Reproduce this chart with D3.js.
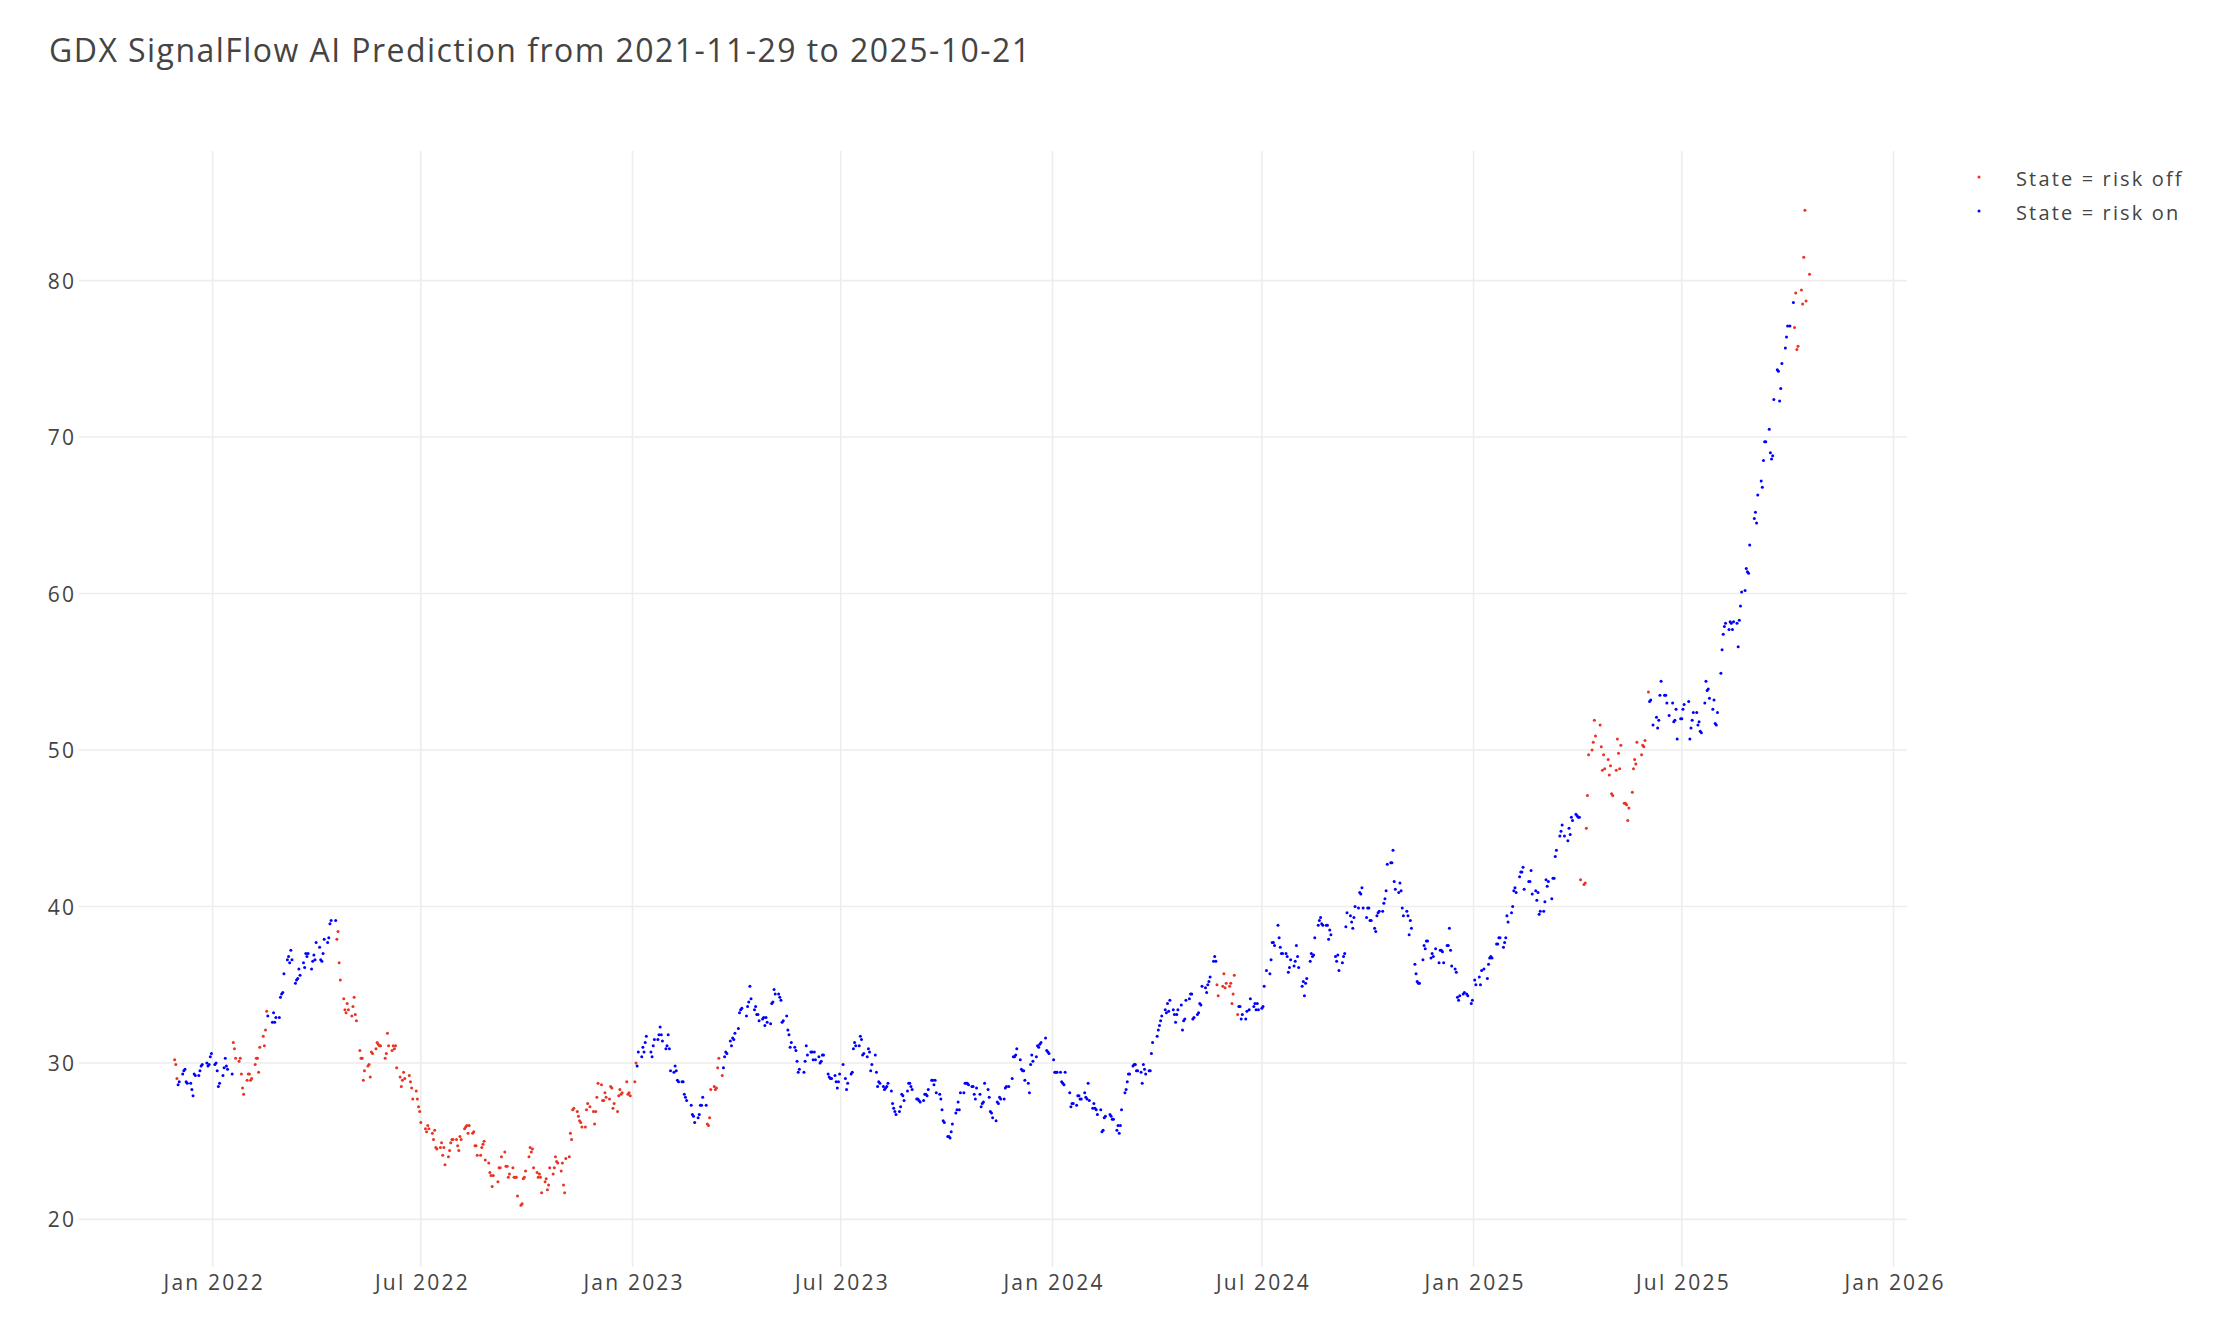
<!DOCTYPE html>
<html><head><meta charset="utf-8">
<script src="https://cdn.jsdelivr.net/npm/d3@7"></script>
<style>
html,body{margin:0;padding:0;background:#fff;}
svg{display:block;font-family:"Open Sans",sans-serif;}
</style></head><body>
<svg id="chart" width="2228" height="1342"></svg>
<script>
// ---------------- data ----------------
const chartTitle = "GDX SignalFlow AI Prediction from 2021-11-29 to 2025-10-21";
const firstDay = "2021-11-29";
const lastDay = "2025-10-21";
const marketHolidays = [
  "2021-12-24","2022-01-17","2022-02-21","2022-04-15","2022-05-30","2022-06-20","2022-07-04","2022-09-05","2022-11-24","2022-12-26",
  "2023-01-02","2023-01-16","2023-02-20","2023-04-07","2023-05-29","2023-06-19","2023-07-04","2023-09-04","2023-11-23","2023-12-25",
  "2024-01-01","2024-01-15","2024-02-19","2024-03-29","2024-05-27","2024-06-19","2024-07-04","2024-09-02","2024-11-28","2024-12-25",
  "2025-01-01","2025-01-09","2025-01-20","2025-02-17","2025-04-18","2025-05-26","2025-06-19","2025-07-04","2025-09-01"
];
// closes per month (one entry per trading day, null = not visible)
const closes2021 = [
  [30.2,29.9],
  [29.0,28.6,28.8,29.3,29.5,29.6,28.8,28.7,28.7,28.3,27.9,29.3,29.2,29.2,29.5,29.8,29.9,30.0,29.8,29.9,30.4,30.6]
];
const closes2022 = [
  [29.9,30.0,29.5,28.5,28.7,29.2,29.7,30.3,29.8,29.6,29.3,31.3,30.9,30.3,30.1,30.3,29.3,28.4,28.0,28.9],
  [29.3,29.3,28.9,29.0,29.9,30.3,30.3,29.4,31.0,31.7,31.1,32.1,33.3,33.0,32.6,33.2,32.6,32.9,32.9],
  [34.2,34.4,34.5,35.7,36.6,36.8,36.4,37.2,36.6,35.1,35.3,35.4,36.0,35.6,36.4,36.1,37.0,36.8,37.0,36.0,36.5,36.9,36.6],
  [37.7,37.4,36.6,36.5,37.0,37.9,37.7,38.0,38.9,39.1,39.1,37.9,38.4,36.4,35.3,34.1,33.4,33.2,33.8,33.4],
  [33.0,33.6,34.2,33.1,32.7,30.8,30.3,30.3,28.9,29.5,29.8,29.9,29.1,30.7,30.6,30.9,31.3,31.2,31.1,31.1,30.3],
  [30.6,31.9,31.1,30.8,31.1,30.9,31.1,29.7,29.1,28.5,28.9,29.4,29.0,29.2,28.8,28.4,27.7,28.2,27.7,27.2,26.9],
  [26.2,25.8,25.6,26.0,25.8,25.5,25.1,25.7,24.6,24.5,24.6,24.9,24.1,24.6,23.5,24.0,24.4,24.9,25.1,25.1],
  [25.1,24.7,24.4,25.3,25.1,25.8,25.9,26.0,25.5,26.0,25.5,25.6,24.7,24.7,24.1,24.1,24.6,24.8,25.0,23.8,23.6,23.0,22.8],
  [22.1,22.8,22.4,23.3,23.3,24.0,24.3,23.4,23.4,22.7,22.9,23.3,22.7,22.7,22.7,21.5,20.9,21.0,22.6,22.7,23.1],
  [24.0,24.6,24.3,24.5,23.3,23.0,22.7,22.9,22.7,21.7,22.4,22.6,21.9,22.2,23.3,22.9,23.3,24.0,23.7,23.6,23.1],
  [23.6,22.2,21.7,23.9,24.0,25.5,25.1,27.0,27.1,26.9,26.6,26.3,26.2,25.9,25.9,27.0,27.4,27.2,26.9,26.1,26.9],
  [27.8,28.7,28.6,27.6,27.6,28.1,27.8,27.7,28.5,28.4,27.1,27.4,26.9,27.9,28.3,28.0,28.1,28.8,28.0,28.1,27.9]
];
const closes2023 = [
  [28.8,30.0,29.8,30.7,30.4,31.0,30.7,31.3,31.7,30.7,30.4,31.1,31.5,31.5,31.8,32.3,31.8,31.4,30.9,31.1],
  [31.8,30.9,29.5,29.4,29.8,29.5,28.9,28.8,28.8,28.8,28.0,27.8,27.6,27.3,26.7,26.6,26.2,26.5,26.7],
  [27.3,27.3,27.8,27.3,26.1,26.0,26.5,28.3,28.5,28.3,28.4,29.7,30.3,29.2,29.7,30.4,30.7,30.6,31.4,31.1,31.6,31.5,31.9],
  [32.2,33.2,33.4,33.5,33.0,33.6,33.9,34.9,34.1,33.4,33.6,33.1,33.1,32.7,32.8,32.9,32.4,32.9,32.6],
  [32.5,33.8,33.9,34.7,34.4,34.4,34.2,34.0,32.6,32.7,33.0,32.1,31.8,31.0,31.3,31.0,30.8,30.1,29.4,29.6,29.4,30.1],
  [31.1,30.5,30.7,30.7,30.2,30.7,30.2,30.4,30.0,30.1,30.5,30.5,29.3,29.1,29.0,29.0,29.2,28.8,28.4,28.8,29.3],
  [29.9,29.0,28.3,28.7,29.3,29.4,30.9,31.3,31.1,31.1,31.7,31.5,30.5,30.6,30.4,30.9,30.7,29.5,29.9,30.5],
  [29.4,28.5,28.8,28.7,28.5,28.3,28.4,28.5,28.7,28.2,27.4,27.1,26.9,26.7,26.9,27.2,28.0,27.9,27.6,28.2,28.7,28.7,28.5],
  [28.3,27.7,27.7,27.6,27.5,27.6,28.0,28.0,27.9,28.3,28.9,28.9,28.6,28.9,28.1,28.0,27.7,27.0,26.3,26.2],
  [25.3,25.3,25.2,25.6,26.1,26.8,27.0,27.5,27.0,28.1,28.1,28.7,28.7,28.7,28.6,28.5,28.5,28.0,27.7,28.4,28.0,27.2],
  [27.4,27.5,28.7,28.3,27.8,26.9,26.8,26.5,26.3,27.5,27.4,27.8,27.7,27.7,28.4,28.5,28.5,29.0,30.4,30.4,30.5],
  [30.9,30.2,29.6,29.5,29.5,28.9,28.7,28.1,29.9,30.5,30.1,30.4,31.1,31.0,31.2,31.3,31.6,30.8,30.7,30.6]
];
const closes2024 = [
  [30.2,29.4,29.4,29.4,29.4,28.8,28.7,28.6,29.4,28.1,27.2,27.4,27.4,27.3,27.9,27.9,27.7,27.7,28.1,27.8,27.7],
  [28.7,27.6,27.1,27.4,27.1,27.0,26.7,27.0,25.6,25.7,26.5,26.6,26.7,26.6,26.4,26.4,25.7,26.0,25.5,26.0],
  [27.0,28.1,28.3,28.8,29.3,29.3,29.8,29.9,29.9,29.5,29.5,29.4,28.7,29.9,29.6,29.3,29.5,29.5,30.6,31.3],
  [31.7,32.1,32.4,32.7,33.0,33.4,33.2,33.8,33.3,34.0,33.4,33.1,32.6,33.1,33.4,33.7,32.1,32.7,32.8,34.0,34.1,34.4],
  [34.4,32.8,32.9,33.1,33.2,33.8,33.7,34.9,34.8,34.5,35.0,35.2,35.5,36.5,36.8,36.5,35.0,34.3,34.9,35.7,34.8,35.1],
  [34.9,35.1,33.8,34.4,35.6,33.1,33.6,33.6,32.8,33.1,32.8,33.3,33.4,34.1,33.6,33.8,33.4,33.8,33.4],
  [33.5,33.6,34.9,35.9,35.7,36.6,37.7,37.7,37.5,38.8,38.0,37.4,37.0,37.0,37.0,36.8,35.8,36.1,36.6,36.2,36.5,37.5],
  [36.8,36.1,34.9,35.2,34.3,35.1,35.4,36.5,37.0,36.8,36.9,38.0,38.8,39.1,39.3,38.9,38.8,38.8,38.8,37.9,38.5,38.2],
  [36.8,36.5,36.9,35.9,36.4,36.8,37.0,38.7,39.6,39.4,39.0,38.6,39.3,40.0,39.9,40.9,40.8,41.2,39.9,39.3],
  [39.9,39.9,39.1,39.1,38.6,38.4,39.4,39.6,39.7,39.7,40.2,40.5,41.0,42.7,42.8,42.8,43.6,41.6,41.1,40.9,41.5,41.0,39.9],
  [39.4,39.7,39.4,38.2,39.1,38.6,36.3,35.7,35.2,35.1,35.1,36.6,37.5,37.3,37.8,37.8,36.7,37.0,36.8,37.3],
  [36.4,37.2,37.2,37.1,36.4,37.5,37.5,38.6,37.2,36.2,36.0,35.8,34.2,34.0,34.3,34.4,34.5,34.4,34.3,33.8,34.0]
];
const closes2025 = [
  [35.3,35.0,35.5,35.0,35.9,36.0,35.4,36.3,36.7,36.8,36.7,37.6,37.6,38.0,38.0,37.4,37.7,38.0,39.4,39.0],
  [39.6,40.0,41.0,41.2,40.9,41.9,42.2,42.2,42.5,41.1,41.6,41.6,42.3,40.8,41.0,40.4,40.9,39.5,39.7],
  [39.7,40.3,41.7,41.3,41.6,40.5,41.8,41.8,43.2,43.6,44.5,44.8,45.2,null,44.5,44.2,45.0,44.6,45.7,45.5,45.9],
  [45.8,45.7,45.7,41.7,41.4,41.5,45.0,47.1,49.7,50.0,50.5,51.9,50.9,51.6,50.2,48.7,49.7,48.8,49.4,48.4,49.0],
  [47.2,47.1,48.7,50.7,49.8,48.8,50.3,46.6,46.6,46.5,45.5,46.3,47.3,48.8,49.4,49.1,50.5,49.7,50.3,50.2,50.6],
  [53.7,53.1,53.2,null,51.6,52.1,51.4,51.9,53.5,54.4,53.5,53.5,53.0,52.2,53.0,51.8,51.9,52.6,50.7,52.0],
  [52.0,52.6,52.9,53.1,50.7,51.4,51.9,52.4,52.4,51.6,51.8,51.2,51.1,53.0,54.4,53.8,53.9,53.3,52.6,53.2,51.7,51.6],
  [52.4,54.9,56.4,57.4,57.9,58.1,57.7,58.2,58.1,57.7,58.2,58.1,56.6,58.3,59.2,60.1,60.2,61.6,61.4,61.3,63.1],
  [64.8,65.2,64.5,66.3,67.2,66.8,68.5,69.7,69.7,70.5,69.0,68.6,68.8,72.4,74.3,74.2,72.3,73.1,74.7,75.7,76.4],
  [77.1,null,77.1,78.6,77.0,79.2,75.6,75.8,79.4,78.5,81.5,84.5,78.7,80.4,null]
];
// state changes: [first day of run, state]
const stateChanges = [
  ["2021-11-29","risk off"],["2021-12-02","risk on"],["2022-01-19","risk off"],["2022-02-18","risk on"],
  ["2022-04-19","risk off"],["2023-01-05","risk on"],["2023-03-07","risk off"],["2023-03-21","risk on"],
  ["2024-05-23","risk off"],["2024-06-11","risk on"],["2025-04-04","risk off"],["2025-06-03","risk on"],
  ["2025-10-07","risk off"]
];
const stateNames = ["risk off","risk on"];
const stateColors = ["#ea3323","#0000ff"];
const yTicks = [20,30,40,50,60,70,80];
const xTickDates = ["2022-01-01","2022-07-01","2023-01-01","2023-07-01","2024-01-01","2024-07-01","2025-01-01","2025-07-01","2026-01-01"];

// ---------------- build table ----------------
const parse = d3.utcParse("%Y-%m-%d");
const fmtDay = d3.utcFormat("%Y-%m-%d");
const fmtMonth = d3.utcFormat("%Y-%m");
const holidaySet = new Set(marketHolidays);
const tradingByMonth = new Map();
for (let d = parse(firstDay); d <= parse(lastDay); d = d3.utcDay.offset(d, 1)) {
  const wd = d.getUTCDay();
  if (wd === 0 || wd === 6 || holidaySet.has(fmtDay(d))) continue;
  const k = fmtMonth(d);
  if (!tradingByMonth.has(k)) tradingByMonth.set(k, []);
  tradingByMonth.get(k).push(new Date(d));
}
const monthArrays = [].concat(closes2021, closes2022, closes2023, closes2024, closes2025);
const monthKeys = Array.from(tradingByMonth.keys());
const changes = stateChanges.map(([d, s]) => ({date: parse(d), state: s}));
function stateOf(date) {
  let s = changes[0].state;
  for (const c of changes) { if (c.date <= date) s = c.state; else break; }
  return s;
}
const points = [];
monthKeys.forEach((k, mi) => {
  const days = tradingByMonth.get(k);
  const vals = monthArrays[mi] || [];
  vals.forEach((v, i) => {
    if (v == null) return;
    const idx = vals.length === days.length ? i :
      Math.round(i * (days.length - 1) / Math.max(1, vals.length - 1));
    const date = days[Math.min(idx, days.length - 1)];
    points.push({date, value: v, state: stateOf(date)});
  });
});

// ---------------- draw ----------------
const svg = d3.select("#chart");
const W = 2228, H = 1342;
const panel = {left: 79, right: 1907, top: 151, bottom: 1267};
svg.append("rect").attr("width", W).attr("height", H).attr("fill", "#fff");

const x = d3.scaleUtc()
  .domain([parse("2022-01-01"), parse("2026-01-01")])
  .range([212.6, 1893.5]);
const y = d3.scaleLinear().domain([20, 80]).range([1219.4, 280.6]);
const color = d3.scaleOrdinal().domain(stateNames).range(stateColors);

const grid = svg.append("g");
grid.selectAll("line.h").data(yTicks).join("line")
  .attr("x1", panel.left).attr("x2", panel.right)
  .attr("y1", d => y(d)).attr("y2", d => y(d))
  .attr("stroke", "#ededed").attr("stroke-width", 1.6);
grid.selectAll("line.v").data(xTickDates.map(parse)).join("line")
  .attr("x1", d => x(d)).attr("x2", d => x(d))
  .attr("y1", panel.top).attr("y2", panel.bottom)
  .attr("stroke", "#ededed").attr("stroke-width", 1.6);

const tickFont = {size: "21px", ls: 2.2, fill: "#444"};
const xAxis = d3.axisBottom(x).tickValues(xTickDates.map(parse))
  .tickFormat(d3.utcFormat("%b %Y")).tickSize(0);
const gx = svg.append("g").attr("transform", `translate(0,${panel.bottom})`).call(xAxis);
gx.select(".domain").remove();
gx.selectAll("text").attr("y", 23).attr("dy", null)
  .attr("dx", tickFont.ls / 2)
  .attr("font-family", '"Open Sans",sans-serif').attr("font-size", tickFont.size)
  .attr("letter-spacing", tickFont.ls + "px").attr("fill", tickFont.fill);

const yAxis = d3.axisLeft(y).tickValues(yTicks).tickSize(0).tickPadding(5 - tickFont.ls);
const gy = svg.append("g").attr("transform", `translate(${panel.left},0)`).call(yAxis);
gy.select(".domain").remove();
gy.selectAll("text").attr("dy", "0.36em")
  .attr("font-family", '"Open Sans",sans-serif').attr("font-size", tickFont.size)
  .attr("letter-spacing", tickFont.ls + "px").attr("fill", tickFont.fill);

// points: risk off trace first, risk on on top
const plot = svg.append("g");
stateNames.forEach(s => {
  plot.append("g").selectAll("circle")
    .data(points.filter(p => p.state === s)).join("circle")
    .attr("cx", d => x(d.date)).attr("cy", d => y(d.value))
    .attr("r", 1.5).attr("fill", color(s));
});

// title
svg.append("text").attr("x", 49).attr("y", 62)
  .attr("font-size", "32px").attr("letter-spacing", "1.45px").attr("fill", "#444")
  .text(chartTitle);

// legend
const lg = svg.append("g");
stateNames.forEach((s, i) => {
  const cy = 177 + i * 34;
  lg.append("circle").attr("cx", 1979).attr("cy", cy).attr("r", 1.5).attr("fill", color(s));
  lg.append("text").attr("x", 2016).attr("y", cy + 9)
    .attr("font-size", "20px").attr("letter-spacing", "2.15px").attr("fill", "#444")
    .text("State = " + s);
});
</script>
</body></html>
